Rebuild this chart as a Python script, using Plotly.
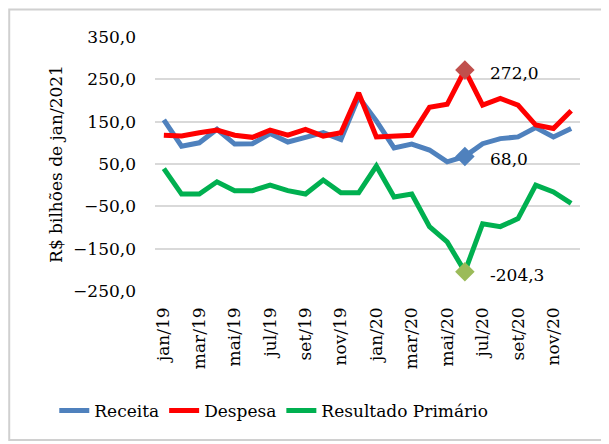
import plotly.graph_objects as go

# meses jan/19 .. dez/20
meses = ["jan", "fev", "mar", "abr", "mai", "jun", "jul", "ago", "set", "out", "nov", "dez"]
categorias = [f"{m}/{a}" for a in ("19", "20") for m in meses]

receita = [154, 92, 100, 132, 97, 98, 122, 102, 113, 124, 108, 208,
           152, 88, 97, 83, 55, 68, 98, 110, 114, 136, 114, 134]
despesa = [118, 116, 124, 130, 118, 113, 130, 118, 132, 116, 124, 218,
           114, 116, 118, 184, 191, 272, 189, 205, 189, 142, 134, 176]
resultado = [39, -21, -21, 8, -13, -13, 0, -13, -21, 12, -18, -18,
             45, -28, -21, -98, -134, -204.3, -91, -98, -79, 0, -16, -43]

# destaque em jun/20
destaque_idx = 17
destaque_rec = 68.0
destaque_desp = 272.0
destaque_res = -204.3

y_ticks = [-250, -150, -50, 50, 150, 250, 350]
x_ticks = categorias[::2]

FONT = "DejaVu Serif"
AZUL = "#4F81BD"
VERMELHO = "#FF0000"
VERDE = "#00B050"

fig = go.Figure()

fig.add_trace(go.Scatter(x=categorias, y=receita, name="Receita", mode="lines",
                         line=dict(color=AZUL, width=5)))
fig.add_trace(go.Scatter(x=categorias, y=despesa, name="Despesa", mode="lines",
                         line=dict(color=VERMELHO, width=5)))
fig.add_trace(go.Scatter(x=categorias, y=resultado, name="Resultado Primário", mode="lines",
                         line=dict(color=VERDE, width=5)))

# marcadores do destaque
x_d = categorias[destaque_idx]
for val, cor in [(destaque_rec, AZUL), (destaque_desp, "#C0504D"), (destaque_res, "#9BBB59")]:
    fig.add_trace(go.Scatter(x=[x_d], y=[val], mode="markers", showlegend=False,
                             marker=dict(symbol="diamond", size=15, color=cor)))
    fig.add_annotation(x=x_d, y=val, text=f"{val:.1f}".replace(".", ","),
                       showarrow=False, xanchor="left", xshift=23, yshift=-3,
                       font=dict(family=FONT, size=17, color="#000"))

# moldura
fig.add_shape(type="rect", xref="paper", yref="paper", layer="above",
              x0=-0.343, x1=1.062, y0=-0.587, y1=1.108,
              line=dict(color="#D0D0D0", width=2), fillcolor="rgba(0,0,0,0)")

# a página tem 8px de margem no body: figura menor e deslocada
fig.update_layout(
    width=601, height=436,
    margin=dict(l=147, r=29, t=29, b=153, autoexpand=False),
    paper_bgcolor="white", plot_bgcolor="white",
    separators=",.",
    font=dict(family=FONT, size=17, color="#000"),
    showlegend=True,
    legend=dict(orientation="h", x=-0.237, xanchor="left", y=-0.472, yanchor="middle",
                font=dict(family=FONT, size=17), tracegroupgap=0, itemwidth=30),
)

fig.update_xaxes(type="category", range=[-0.5, len(categorias) - 0.5], automargin=False,
                 tickmode="array", tickvals=x_ticks, ticktext=x_ticks,
                 tickangle=-90, showgrid=False, showline=False, ticks="",
                 ticklabelstandoff=12, tickfont=dict(family=FONT, size=17))
fig.update_yaxes(range=[-250, 350], tickvals=y_ticks, tickformat=".1f", automargin=False,
                 showgrid=True, gridcolor="#D9D9D9", gridwidth=1.5,
                 zeroline=False, showline=False, ticks="", ticklabelstandoff=18,
                 tickfont=dict(family=FONT, size=17),
                 title=dict(text="R$ bilhões de jan/2021", standoff=6,
                            font=dict(family=FONT, size=17)))

fig.write_html("out.html")
